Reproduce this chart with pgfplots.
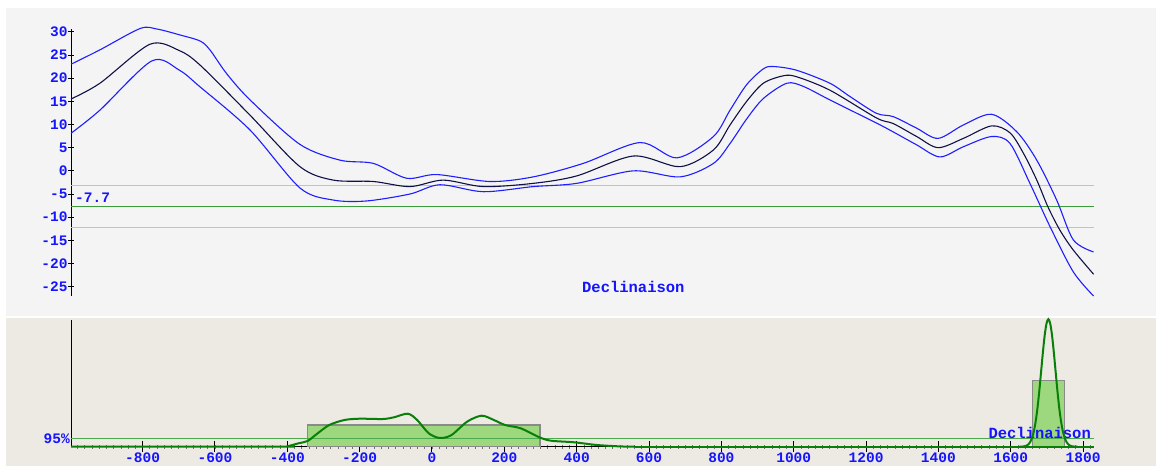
\documentclass[border=0pt]{standalone}
\usepackage{fontspec}
\setmonofont{Liberation Mono}
\usepackage{pgfplots}
\pgfplotsset{compat=1.18}

\definecolor{topbg}{RGB}{244,244,244}
\definecolor{botbg}{RGB}{237,233,227}
\definecolor{tblue}{RGB}{20,20,255}
\definecolor{cblue}{RGB}{30,30,255}
\definecolor{cnavy}{RGB}{16,16,72}
\definecolor{gdark}{RGB}{60,155,60}
\definecolor{glight}{RGB}{165,214,165}
\definecolor{rfill}{RGB}{158,216,126}
\definecolor{rdraw}{RGB}{138,138,138}
\definecolor{gcurve}{RGB}{8,128,8}
\definecolor{gline}{RGB}{76,170,76}

\newcommand\tickfont{\fontsize{14.5bp}{16bp}\selectfont\ttfamily\bfseries}
\newcommand\labfont{\fontsize{15.5bp}{17bp}\selectfont\ttfamily\bfseries}

\begin{document}
\begin{tikzpicture}[x=1bp,y=1bp]
\useasboundingbox (0,0) rectangle (1156,-466);
\fill[white] (0,0) rectangle (1156,-466);
\fill[topbg] (6,-8) rectangle (1156,-316.5);
\fill[botbg] (6,-318) rectangle (1156,-466);

% ---------- curve of declination ----------
\begin{axis}[
  at={(71bp,-296bp)}, anchor=south west,
  scale only axis, width=1022.9bp, height=267bp,
  xmin=-998, xmax=1830, ymin=-27, ymax=30.6,
  axis x line=none, axis y line*=left,
  axis line style={black, line width=1bp},
  xtick=\empty,
  ytick={-25,-20,...,30},
  tick align=center, major tick length=6bp,
  tick style={black, line width=0.8bp},
  yticklabel style={font=\tickfont, text=tblue, anchor=east, xshift=3bp},
  /pgf/number format/assume math mode=true,
  clip=false,
]
\addplot[glight, line width=1bp] coordinates {(-998,-3.1) (1830,-3.1)};
\addplot[glight, line width=1bp] coordinates {(-998,-12.3) (1830,-12.3)};
\addplot[gdark, line width=1.3bp] coordinates {(-998,-7.7) (1830,-7.7)};
\node[anchor=west, font=\tickfont, text=tblue, inner sep=0pt] at (axis cs:-998,-7.7) [xshift=4bp, yshift=9bp] {-7.7};

% upper bound
\addplot[cblue, line width=1.1bp, smooth] coordinates {
(-998,23.0) (-918,26.1) (-807,30.7) (-761,30.6) (-696,29.3) (-641,28.0)
(-614,26.1) (-568,21.0) (-503,15.3) (-365,5.7) (-254,2.3) (-162,1.6)
(-70,-1.6) (13,-0.8) (160,-2.3) (280,-1.3) (418,1.6) (575,6.1) (677,2.8)
(778,7.4) (824,13.1) (870,18.6) (916,22.0) (944,22.5) (1008,21.7)
(1100,18.9) (1156,16.0) (1229,12.4) (1275,11.7) (1340,9.2) (1399,7.0)
(1469,9.9) (1547,12.2) (1617,8.4) (1672,2.3) (1727,-6.3) (1773,-14.9)
(1829,-17.5)};
% central value
\addplot[cnavy, line width=1.1bp, smooth] coordinates {
(-998,15.5) (-918,18.9) (-780,27.3) (-700,26.0) (-641,22.8) (-503,12.0)
(-365,0.9) (-273,-2.0) (-162,-2.3) (-61,-3.4) (31,-2.0) (142,-3.4)
(280,-2.7) (400,-1.1) (557,3.2) (686,0.9) (778,4.5) (824,9.9) (870,15.0)
(916,18.9) (971,20.5) (1008,20.3) (1100,17.4) (1229,11.4) (1275,10.2)
(1340,7.4) (1399,5.0) (1469,7.0) (1547,9.7) (1598,8.2) (1635,3.8)
(1672,-2.0) (1703,-7.8) (1736,-12.8) (1773,-17.1) (1829,-22.3)};
% lower bound
\addplot[cblue, line width=1.1bp, smooth] coordinates {
(-998,8.1) (-918,13.1) (-775,23.7) (-700,21.8) (-641,18.1) (-503,8.8)
(-365,-3.7) (-273,-6.3) (-181,-6.5) (-61,-5.0) (22,-3.0) (142,-4.5)
(280,-3.4) (400,-2.7) (557,0.0) (686,-1.3) (778,1.6) (824,5.9) (870,11.2)
(916,15.6) (981,18.9) (1027,18.2) (1100,15.3) (1229,10.3) (1275,8.4)
(1340,5.6) (1404,3.0) (1469,5.2) (1547,7.4) (1598,5.9) (1653,-2.7)
(1709,-12.1) (1773,-21.8) (1829,-27.0)};
\node[anchor=base, font=\labfont, text=tblue] at (axis cs:556.6,-26.3) {Declinaison};
\end{axis}

% ---------- distribution of dates ----------
\begin{axis}[
  at={(71bp,-446.7bp)}, anchor=south west,
  scale only axis, width=1022.9bp, height=126.7bp,
  xmin=-998, xmax=1830, ymin=0, ymax=126.7,
  axis x line*=bottom, axis y line*=left,
  axis line style={black, line width=1bp},
  xtick={-800,-600,...,1800},
  minor xtick={-980,-960,...,1820},
  ytick=\empty,
  tick align=center, major tick length=11bp, minor tick length=4bp,
  major tick style={black, line width=1bp},
  minor tick style={black!55, line width=0.8bp},
  xticklabel style={font=\tickfont, text=tblue, anchor=north, yshift=2.5bp},
  /pgf/number format/assume math mode=true,
  /pgf/number format/set thousands separator={},
  clip=false,
]
\addplot[fill=rfill, draw=rdraw, line width=1.4bp] coordinates {(-344,0) (-344,21.7) (298.6,21.7) (298.6,0)} -- cycle;
\addplot[fill=rfill, draw=rdraw, line width=1.4bp] coordinates {(1660,0) (1660,66.4) (1748,66.4) (1748,0)} -- cycle;
\addplot[gline, line width=1.4bp] coordinates {(-998,8.4) (1830,8.4)};
\node[anchor=east, font=\tickfont, text=tblue, inner sep=0pt] at (axis cs:-998,8.4) [xshift=-1bp] {95\%};
\node[anchor=base, font=\labfont, text=tblue, inner sep=0pt] at (axis cs:1680,8.2) {Declinaison};
% density, first interval
\addplot[gcurve, line width=2bp, smooth] coordinates {
(-998,0) (-420,0) (-401,0.3) (-369,3.4) (-344,5.7) (-316,13.4) (-284,21.7)
(-242,26.7) (-200,28) (-136,27.7) (-105,29.4) (-67,33) (-41,26.7)
(-9,13.4) (22,8.7) (54,11.7) (97,25) (137,31) (171,26.7) (202,21.7)
(245,18.4) (297,9.4) (329,6) (393,4.4) (456,1.7) (520,0.3) (560,0)};
\addplot[gcurve, line width=2bp] coordinates {(560,0) (1830,0)};
% density, second interval
\addplot[gcurve, line width=2bp, smooth] coordinates {
(1624,0) (1634,0.2) (1639,0.5) (1644,1.1) (1649,2.4) (1654,4.8) (1659,8.9)
(1664,15.6) (1669,25.5) (1674,39.0) (1679,56.0) (1684,75.4) (1689,94.8)
(1694,111.8) (1699,123.4) (1704,127.5) (1709,123.4) (1714,111.8)
(1719,94.8) (1724,75.4) (1729,56.0) (1734,39.0) (1739,25.5) (1744,15.6)
(1749,8.9) (1754,4.8) (1759,2.4) (1764,1.1) (1769,0.5) (1774,0.2) (1784,0)};
\end{axis}
\end{tikzpicture}
\end{document}
